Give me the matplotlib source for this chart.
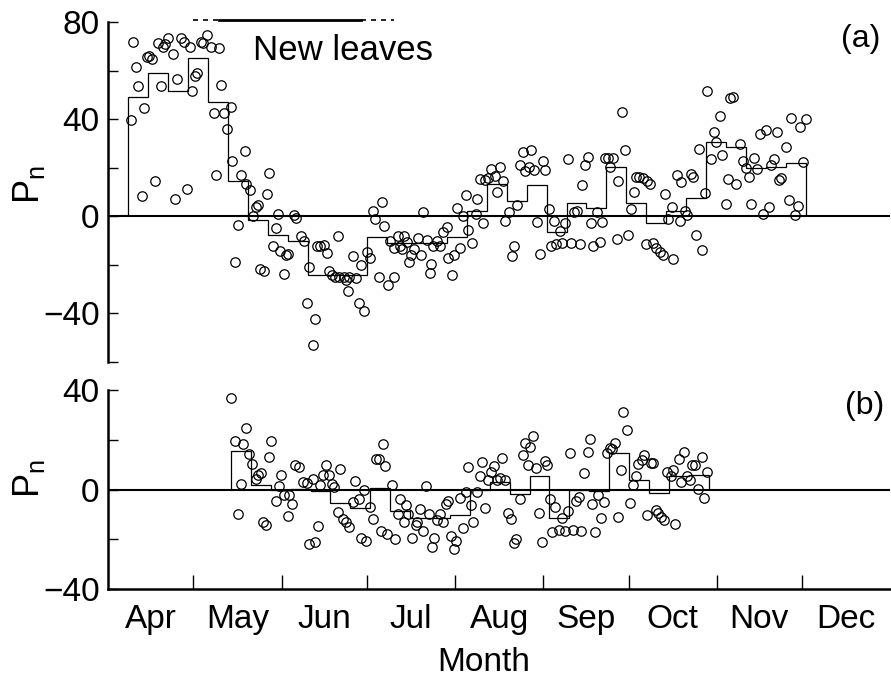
import numpy as np
import matplotlib
matplotlib.use("Agg")
import matplotlib.pyplot as plt

plt.rcParams['font.family'] = ['Liberation Sans', 'DejaVu Sans']
plt.rcParams['mathtext.fontset'] = 'custom'
plt.rcParams['mathtext.rm'] = 'Liberation Sans'
plt.rcParams['mathtext.it'] = 'Liberation Sans'

# x = days since 1 April
months = ["Apr", "May", "Jun", "Jul", "Aug", "Sep", "Oct", "Nov", "Dec"]
month_len = [30, 31, 30, 31, 31, 30, 31, 30, 31]

# (a) daily Pn
days_a = [8.1, 8.9, 9.7, 10.6, 12.0, 12.7, 13.7, 14.5, 15.3, 16.7, 17.6, 18.6, 19.4, 20.2,
          21.1, 22.7, 23.7, 24.4, 25.6, 26.7, 27.9, 28.7, 29.7, 30.5, 31.4, 32.6, 33.4, 34.9,
          36.1, 37.3, 38.0, 38.9, 39.8, 40.8, 41.9, 43.1, 43.7, 44.7, 45.7, 46.6, 48.0, 48.6,
          49.8, 50.9, 52.1, 52.7, 53.6, 54.8, 56.0, 56.5, 58.0, 58.9, 59.9, 60.6, 62.0, 62.6,
          63.4, 65.3, 66.1, 67.9,
          69.0, 70.8, 70.0, 72.8, 72.2, 73.5, 74.6, 75.8, 77.0, 77.8, 78.6, 79.8, 80.7, 81.3,
          82.8, 83.6, 84.2, 84.8, 86.0, 87.1, 88.3, 88.9, 90.1, 90.9, 92.2, 93.0, 93.9, 95.3,
          96.2, 96.9, 98.3, 99.2, 100.4, 100.6, 101.8, 102.7, 103.2, 103.9, 105.0, 105.8, 106.4,
          107.6, 108.9, 109.9, 110.8, 112.0, 113.2, 113.6, 114.4, 115.5, 116.7, 117.9, 119.0,
          119.5, 121.0, 121.6, 122.8, 123.7, 124.9, 125.7, 126.5, 128.0, 129.2, 129.6, 130.7,
          131.9, 132.7, 133.5, 134.5,
          136.2, 136.8, 137.7, 138.9, 139.7, 140.9, 142.1, 142.9, 143.8, 145.0, 145.9, 146.7,
          147.9, 148.8, 149.9, 150.8, 151.8, 152.8, 153.7, 154.9, 155.8, 156.7, 157.6, 158.8,
          159.6, 160.5, 161.7, 162.7, 163.9, 164.8, 165.8, 166.8, 167.7, 168.7, 169.7, 170.6,
          171.8, 172.8, 173.7, 174.8, 175.6, 176.5, 177.7, 178.8, 179.4, 180.6, 181.7, 182.7,
          183.9, 184.9, 185.6, 186.8, 187.9, 189.1, 189.4, 190.5, 191.7, 192.8, 194.1, 195.0,
          195.8, 196.7, 198.1, 198.7, 199.9, 201.1, 201.6,
          202.8, 203.6, 204.8, 205.7, 206.7, 207.8, 208.9, 209.8, 210.6, 212.1, 212.9, 213.9,
          215.1, 216.0, 217.1, 218.0, 218.8, 219.8, 220.9, 222.3, 223.3, 224.2, 225.2, 226.2,
          227.1, 228.2, 229.1, 230.3, 231.4, 232.2, 233.2, 234.1, 235.2, 235.9, 236.7, 238.2,
          239.3, 240.2, 241.4, 242.4, 243.3, 244.3, 245.5]
pn_a = [39.5, 71.6, 61.3, 53.7, 8.3, 44.6, 65.4, 65.8, 64.7, 14.5, 71.3, 53.7, 69.6, 70.9,
        73.3, 66.8, 7.2, 56.5, 73.3, 71.6, 11.3, 69.6, 51.7, 57.9, 59.2, 71.9, 71.3, 74.7,
        69.6, 42.7, 16.8, 69.1, 54.0, 42.7, 35.8, 45.2, 22.6, -18.9, -3.7, 17.2, 26.9, 13.1,
        11.0, 0.0, 3.9, 4.8, -21.6, -22.7, 9.0, 17.9, -12.4, -4.8, 1.1, -14.2, -23.8, -15.8,
        -15.6, 0.4, -0.7, -8.3,
        -10.3, -20.7, -35.5, -42.4, -53.0, -12.4, -12.4, -11.7, -15.2, -22.7, -24.1, -24.8, -8.0, -24.8,
        -24.8, -26.2, -30.6, -24.8, -16.5, -25.5, -35.5, -20.0, -39.0, -14.5, -17.2, 2.1, -1.1, -25.2,
        5.8, -3.9, -28.3, -10.3, -25.1, -13.1, -8.3, -12.1, -13.5, -8.3, -10.7, -19.0, -15.8,
        -13.5, -9.0, -15.8, 1.6, -9.9, -23.4, -19.7, -12.1, -10.3, -12.4, -6.6, -4.4,
        -17.2, -24.1, -15.8, 3.4, -13.1, 0.0, 8.9, -5.5, -11.0, 0.9, 7.1, 15.4,
        -2.8, 14.9, 15.8, 19.3,
        16.5, 10.1, 20.4, 14.5, -1.8, 1.8, -16.3, -12.4, 4.8, 21.3, 26.4, 18.6,
        20.4, 27.4, 19.0, -2.3, -15.6, 22.7, 19.0, 3.2, -12.4, -1.8, -11.4, -6.2,
        -11.0, -2.8, 23.4, -11.0, 1.8, 2.1, -11.3, 12.8, 21.3, 24.4, -2.8, -12.4,
        1.8, -10.6, -2.5, 23.8, 23.8, 20.2, 23.8, -9.2, 14.5, 43.1, 27.4, -7.6,
        2.8, 10.1, 16.1, 16.1, 15.6, -11.4, 14.5, 13.4, -11.0, -13.1, -14.5, -15.8,
        9.2, -1.0, 3.9, -17.5, 17.2, -1.8, 14.2,
        2.1, 0.7, 17.6, 16.3, -7.6, 27.8, -13.8, 9.6, 51.7, 23.7, 34.7, 30.6,
        41.3, 25.1, 5.2, 15.2, 48.9, 49.3, 13.1, 29.6, 22.7, 20.0, 16.3, 5.2,
        24.1, 19.3, 33.7, 1.1, 35.5, 3.9, 21.3, 23.4, 34.7, 14.9, 15.8, 28.7,
        6.9, 40.6, 0.7, 4.1, 36.8, 22.3, 39.9]

# (a) weekly means
week_edges_a = [7.2, 14.2, 21.2, 28.2, 35.2, 42.2, 49.2, 56.2, 63.2, 70.2, 77.2, 84.2,
                91.2, 98.2, 105.2, 112.2, 119.2, 126.2, 133.2, 140.2, 147.2, 154.2, 161.2,
                168.2, 175.2, 182.2, 189.2, 196.2, 203.2, 210.2, 217.2, 224.2, 231.2, 238.2, 245.2]
week_mean_a = [49.2, 58.8, 51.7, 65.0, 47.1, 14.7, -1.7, -7.6, -10.3, -24.0, -24.0, -24.0,
               -8.5, -11.0, -11.0, -11.0, -8.5, 2.0, 13.5, 6.2, 12.8, -6.3, 5.3, 3.3, 20.4,
               5.3, -2.6, 2.0, 7.6, 30.5, 28.5, 20.0, 20.5, 22.0]

# (b) daily Pn
days_b = [43.1, 44.5, 45.8, 46.6, 47.4, 48.4, 49.5, 50.6, 51.9, 52.9, 53.9, 54.4, 55.6, 56.7,
          57.4, 59.1, 60.1, 60.9, 61.8, 63.2, 63.8, 64.7, 65.9, 67.3, 68.7, 69.9, 70.8, 72.0,
          72.8, 73.7, 74.6, 75.7, 76.6, 77.8, 78.7, 79.6, 80.7, 81.7, 82.5, 83.6, 84.8, 86.0,
          86.9, 88.1, 88.9, 90.1, 90.7, 92.1, 93.0, 94.2, 95.1, 95.9, 96.8, 97.4, 98.2,
          100.0, 100.8, 101.8, 102.7, 103.9, 104.7, 105.5, 107.0, 108.2, 108.8, 109.7, 110.9,
          111.9, 112.8, 113.8, 114.6, 115.8, 116.7, 117.9, 118.7, 119.5, 120.7, 121.6, 122.5,
          123.7, 124.9, 125.7, 126.6, 127.5, 128.4, 129.6, 130.7, 131.5, 132.7, 133.6, 134.7,
          135.6, 136.8, 137.7, 138.6, 139.7, 140.6, 141.5, 142.6, 143.6, 144.7, 145.9, 146.7,
          147.6, 148.3, 149.5, 150.6, 151.4, 152.6, 153.5, 154.3, 155.5, 156.1,
          157.2, 158.4, 159.6, 160.5, 161.7, 162.5, 163.3, 164.5, 165.7, 166.3, 167.5, 168.6,
          169.5, 170.3, 171.3, 172.4, 173.4, 174.4, 175.3, 176.3, 177.1, 178.3, 179.4, 180.4,
          181.2, 182.5, 183.5, 184.7, 185.5, 186.4, 187.6, 188.5, 189.6, 190.9, 191.7, 192.5,
          193.5, 194.4, 195.5, 196.4, 197.9, 198.7, 199.3, 200.7, 201.6, 202.6, 203.4, 204.6,
          205.4, 206.4, 207.5, 208.7, 209.5, 210.6]
pn_b = [36.8, 19.7, -10.0, 2.3, 18.3, 24.8, 14.3, 10.3, 4.3, 6.0, 6.6, -13.1, -14.1, 13.0,
        19.4, -4.8, 1.6, 6.0, -2.4, -10.8, -2.4, -5.8, 10.0, 9.0, 3.2, 2.7, -21.8, 4.3,
        -21.2, -14.7, 2.0, 5.9, 9.9, 5.9, 2.3, 1.2, -9.1, 8.3, -11.8, -12.9, -15.1, -5.1,
        3.3, -3.7, -19.5, -0.4, -20.9, -7.1, -12.0, 12.3, 12.3, -16.5, 18.3, 9.6, -17.8,
        2.0, -19.7, -9.8, -3.7, -13.0, -6.4, -9.8, -19.4, -14.1, -13.1, -8.0, -16.7,
        1.6, -9.8, -23.2, -19.4, -12.3, -10.0, -13.0, -6.0, -4.7, -18.5, -24.1, -20.7,
        -3.3, -15.4, -0.9, 9.1, -6.4, -13.0, -1.1, 5.6, 11.1, -7.4, 3.7, 7.0,
        9.6, 4.0, 4.7, 12.7, 4.0, -9.4, -12.0, -21.4, -19.8, -4.0, 13.7, 18.5,
        10.0, 17.1, 21.7, 8.7, -9.4, -21.0, 11.4, 10.0, -4.0, -17.1,
        -7.0, -16.3, -11.6, -16.6, -8.6, 14.7, -16.1, -4.6, -3.2, -16.6, 6.7, 15.1,
        20.5, -6.0, -17.0, -2.3, -11.4, -5.0, 14.7, 16.7, 16.1, 18.5, -11.0, 8.0,
        31.2, 24.1, -5.6, 1.7, 5.5, 10.4, 12.0, 13.8, -10.3, 10.7, 10.7, -8.3,
        -9.4, -11.0, -12.3, 7.1, 5.4, 7.8, -13.7, 12.4, 3.1, 15.1, 5.4, 4.0,
        9.8, 9.8, 0.4, 12.9, -3.6, 7.1]

# (b) weekly means
week_edges_b = [43.2, 50.2, 57.2, 64.2, 71.2, 78.2, 85.2, 92.2, 99.2, 106.2, 113.2, 120.2,
                127.2, 134.2, 141.2, 148.2, 155.2, 162.2, 169.2, 176.2, 183.2, 190.2, 197.2,
                204.2, 211.2]
week_mean_b = [15.3, 1.9, -0.4, 0.3, -0.8, -5.5, -7.5, 0.5, -8.7, -11.4, -11.4, -10.4,
               -0.4, 2.9, -2.0, 5.4, -11.4, -0.3, -0.5, 14.7, 4.0, -1.6, 5.4, 5.8]

# new leaves period (dashed = partial, solid = full)
leaf_partial_1 = (30, 39)
leaf_full = (39, 89)
leaf_partial_2 = (89, 100.6)

month_start = np.concatenate([[0], np.cumsum(month_len)])
month_mid = month_start[:-1] + np.array(month_len) / 2

fig = plt.figure(figsize=(8.91, 6.81), dpi=100)
ax_a = fig.add_axes([0.1212, 0.4684, 0.878, 0.4993])
ax_b = fig.add_axes([0.1212, 0.1351, 0.878, 0.2922])

fs = 24
for ax, d, p in ((ax_a, days_a, pn_a), (ax_b, days_b, pn_b)):
    ax.plot(d, p, 'o', mfc='none', mec='k', ms=6.8, mew=0.9, zorder=3)
    ax.axhline(0, color='k', lw=1.5, zorder=2)
    ax.set_xlim(0, month_start[-1])
    ax.spines[['top', 'right']].set_visible(False)
    ax.spines['left'].set_linewidth(1.8)
    ax.spines['bottom'].set_linewidth(1.8)
    ax.tick_params(axis='y', which='both', direction='in', length=7, width=1,
                   labelsize=fs, pad=6)

ax_a.stairs(week_mean_a, week_edges_a, baseline=0, color='k', lw=0.9)
ax_b.stairs(week_mean_b, week_edges_b, baseline=0, color='k', lw=0.9)

# top panel
ax_a.set_ylim(-60, 80)
ax_a.set_yticks([-40, 0, 40, 80])
ax_a.set_yticks([-60, -20, 20, 60], minor=True)
ax_a.spines['bottom'].set_visible(False)
ax_a.set_xticks([])
ax_a.set_ylabel(r'P$_{\mathregular{n}}$', fontsize=26)
ax_a.yaxis.set_label_coords(-0.078, 0.522)

y_bar = 81
ax_a.plot(leaf_partial_1, [y_bar, y_bar], color='k', lw=1.2, ls=(0, (3, 3)), clip_on=False)
ax_a.plot(leaf_full, [y_bar, y_bar], color='k', lw=2, clip_on=False)
ax_a.plot(leaf_partial_2, [y_bar, y_bar], color='k', lw=1.2, ls=(0, (3, 3)), clip_on=False)
ax_a.text(51, 64.5, "New leaves", fontsize=25, ha='left', va='baseline')
ax_a.text(264.6, 73, "(a)", fontsize=23, ha='center', va='center')

# bottom panel
ax_b.set_ylim(-40, 40)
ax_b.set_yticks([-40, 0, 40])
ax_b.set_yticks([-20, 20], minor=True)
ax_b.set_xticks(month_start[1:-1])
ax_b.set_xticklabels([])
ax_b.set_xticks(month_mid, minor=True)
ax_b.set_xticklabels(months, minor=True)
ax_b.tick_params(axis='x', which='major', direction='in', length=10, width=1)
ax_b.tick_params(axis='x', which='minor', length=0, labelsize=fs, pad=11)
ax_b.set_ylabel(r'P$_{\mathregular{n}}$', fontsize=26)
ax_b.yaxis.set_label_coords(-0.078, 0.555)
ax_b.set_xlabel("Month", fontsize=fs)
ax_b.xaxis.set_label_coords(0.48, -0.29)
ax_b.text(266, 33.6, "(b)", fontsize=23, ha='center', va='center')

fig.savefig("out.png", dpi=100)
